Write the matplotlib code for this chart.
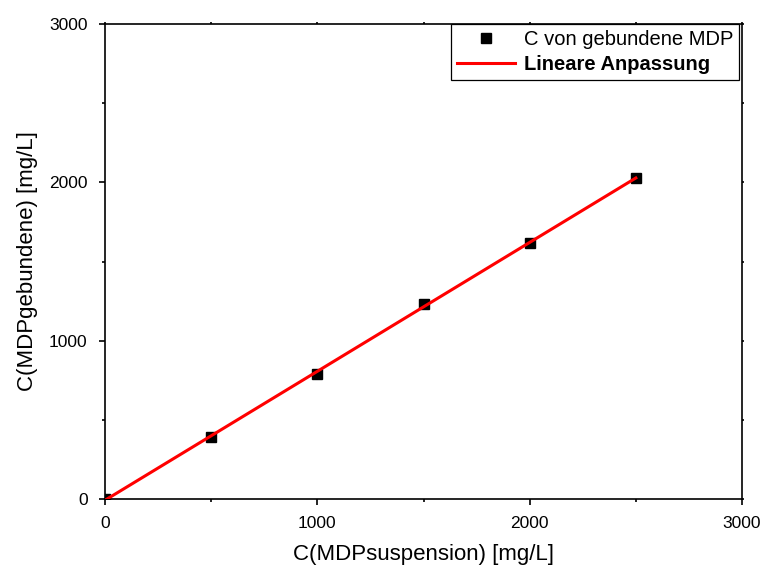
import numpy as np
import matplotlib
matplotlib.use("Agg")
import matplotlib.pyplot as plt
from matplotlib.ticker import MultipleLocator

plt.rcParams['font.family'] = ['Liberation Sans', 'DejaVu Sans']

# Measured concentrations
c_suspension = [0, 500, 1000, 1500, 2000, 2500]
c_gebunden = [0, 393, 792, 1229, 1618, 2027]

x = np.array(c_suspension, dtype=float)
y = np.array(c_gebunden, dtype=float)
slope, intercept = np.polyfit(x, y, 1)
x_fit = np.linspace(x.min(), x.max(), 50)
y_fit = slope * x_fit + intercept

fig = plt.figure(figsize=(7.66, 5.72), dpi=100)
ax = fig.add_axes([105 / 766, 1 - 499 / 572, (742 - 105) / 766, (499 - 24) / 572])

ax.plot(x, y, 's', color='black', ms=7, label='C von gebundene MDP', zorder=3)
ax.plot(x_fit, y_fit, '-', color='#ff0000', lw=2.2, label='Lineare Anpassung', zorder=4)

ax.set_xlim(0, 3000)
ax.set_ylim(0, 3000)
ax.xaxis.set_major_locator(MultipleLocator(1000))
ax.yaxis.set_major_locator(MultipleLocator(1000))
ax.xaxis.set_minor_locator(MultipleLocator(500))
ax.yaxis.set_minor_locator(MultipleLocator(500))

ax.tick_params(which='major', direction='out', length=4.5, width=1.2, labelsize=12.5,
               top=True, right=True, pad=8)
ax.tick_params(which='minor', direction='out', length=2.5, width=1.2,
               top=True, right=True)
for t in ax.xaxis.get_major_ticks() + ax.xaxis.get_minor_ticks():
    t.tick2line.set_markersize(1.5)
for t in ax.yaxis.get_major_ticks() + ax.yaxis.get_minor_ticks():
    t.tick2line.set_markersize(1.5)
for s in ax.spines.values():
    s.set_linewidth(1.2)

ax.set_xlabel('C(MDPsuspension) [mg/L]', fontsize=16, labelpad=9)
ax.set_ylabel('C(MDPgebundene) [mg/L]', fontsize=16, labelpad=8)

leg = ax.legend(loc='upper right', bbox_to_anchor=(0.996, 1.0), fontsize=14.5,
                frameon=True, fancybox=False, edgecolor='black', framealpha=1,
                borderpad=0.3, handlelength=2.9, handletextpad=0.45,
                labelspacing=0.3, borderaxespad=0)
leg.get_frame().set_linewidth(0.9)
leg.get_texts()[1].set_fontweight('bold')

fig.savefig('out.png', dpi=100)
